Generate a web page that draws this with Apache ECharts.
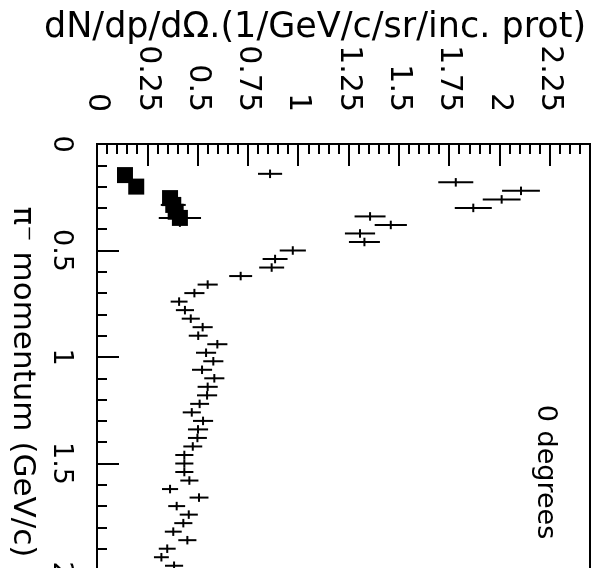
<!DOCTYPE html>
<html>
<head>
<meta charset="utf-8">
<script src="https://cdn.jsdelivr.net/npm/echarts@6/dist/echarts.min.js"></script>
<style>
  html, body { margin: 0; padding: 0; background: #fff; }
  #chart { width: 594px; height: 568px; }
</style>
</head>
<body>
<div id="chart"></div>
<script>
// pi- momentum bin centres (GeV/c) and dN/dp/dOmega values
const momentum = [0.14, 0.18, 0.22, 0.26, 0.30, 0.34, 0.38, 0.42, 0.46, 0.50,
  0.54, 0.58, 0.62, 0.66, 0.70, 0.74, 0.78, 0.82, 0.86, 0.90,
  0.94, 0.98, 1.02, 1.06, 1.10, 1.14, 1.18, 1.22, 1.26, 1.30,
  1.34, 1.38, 1.42, 1.46, 1.50, 1.54, 1.58, 1.62, 1.66, 1.70,
  1.74, 1.78, 1.82, 1.86, 1.90, 1.94, 1.98]
const dndp = [0.860, 1.783, 2.107, 2.011, 1.870, 1.357, 1.460, 1.307, 1.329, 0.973,
  0.885, 0.868, 0.714, 0.550, 0.484, 0.408, 0.437, 0.466, 0.525, 0.503,
  0.598, 0.542, 0.578, 0.522, 0.583, 0.550, 0.547, 0.510, 0.471, 0.527,
  0.502, 0.499, 0.476, 0.434, 0.434, 0.434, 0.459, 0.363, 0.507, 0.396,
  0.456, 0.429, 0.379, 0.449, 0.349, 0.320, 0.383]
const dndpErr = [0.060, 0.087, 0.094, 0.094, 0.092, 0.077, 0.080, 0.075, 0.077, 0.065,
  0.062, 0.062, 0.057, 0.050, 0.050, 0.042, 0.045, 0.045, 0.050, 0.047,
  0.050, 0.050, 0.050, 0.050, 0.050, 0.050, 0.050, 0.047, 0.045, 0.050,
  0.050, 0.047, 0.047, 0.045, 0.045, 0.045, 0.045, 0.040, 0.047, 0.042,
  0.045, 0.045, 0.042, 0.045, 0.042, 0.037, 0.045]
const binHalf = 0.02

// the filled squares
const sqMomentum = [0.146, 0.200, 0.254, 0.286, 0.318, 0.347]
const sqValue = [0.139, 0.195, 0.363, 0.379, 0.391, 0.412]
const sqErr = [0.02, 0.02, 0.03, 0.062, 0.03, 0.105]
const sqPErr = [0.02, 0.02, 0.02, 0.02, 0.02, 0.042]

const font = 'DejaVu Sans'

const myChart = echarts.init(document.getElementById('chart'))

function crossItem(params, api) {
  const v = api.value(0)
  const p = api.value(1)
  const e = api.value(2)
  const dp = api.value(3)
  const l = api.coord([v - e, p])
  const r = api.coord([v + e, p])
  const t = api.coord([v, p - dp])
  const b = api.coord([v, p + dp])
  const st = { stroke: '#000', lineWidth: 2 }
  return {
    type: 'group',
    children: [
      { type: 'line', shape: { x1: l[0], y1: l[1], x2: r[0], y2: r[1] }, style: st },
      { type: 'line', shape: { x1: t[0], y1: t[1], x2: b[0], y2: b[1] }, style: st }
    ]
  }
}

const crossData = momentum.map((p, i) => [dndp[i], p, dndpErr[i], binHalf])
const sqBars = sqMomentum.map((p, i) => [sqValue[i], p, sqErr[i], sqPErr[i]])
const sqData = sqMomentum.map((p, i) => [sqValue[i], p])

const option = {
  animation: false,
  backgroundColor: '#fff',
  grid: {
    left: 97,
    top: 144,
    width: 493,
    height: 426,
    outerBoundsMode: 'none',
    containLabel: false,
    show: true,
    borderColor: '#000',
    borderWidth: 2,
    backgroundColor: 'transparent'
  },
  xAxis: [
    {
      type: 'value',
      position: 'top',
      min: 0,
      max: 2.45,
      interval: 0.25,
      splitLine: { show: false },
      axisLine: { lineStyle: { color: '#000', width: 2 } },
      axisTick: { inside: true, length: 22, lineStyle: { color: '#000', width: 2 } },
      axisLabel: {
        rotate: -90,
        margin: 32,
        showMaxLabel: false,
        color: '#000',
        fontFamily: font,
        fontSize: 30
      }
    },
    {
      // minor ticks every 0.05
      type: 'value',
      position: 'top',
      min: 0,
      max: 2.45,
      interval: 0.05,
      splitLine: { show: false },
      axisLine: { show: false },
      axisTick: { inside: true, length: 10, lineStyle: { color: '#000', width: 2 } },
      axisLabel: { show: false }
    }
  ],
  yAxis: {
    type: 'value',
    inverse: true,
    min: 0,
    max: 2,
    interval: 0.5,
    splitLine: { show: false },
    axisLine: { lineStyle: { color: '#000', width: 2 } },
    axisTick: { inside: true, length: 22, lineStyle: { color: '#000', width: 2 } },
    minorTick: { show: true, splitNumber: 5, length: 10, lineStyle: { color: '#000', width: 2 } },
    axisLabel: {
      rotate: -90,
      margin: 22,
      color: '#000',
      fontFamily: font,
      fontSize: 27
    }
  },
  graphic: [
    {
      type: 'text',
      x: 315,
      y: 28,
      style: {
        text: 'dN/dp/dΩ.(1/GeV/c/sr/inc. prot)',
        font: '35px "DejaVu Sans"',
        fill: '#000',
        align: 'center',
        verticalAlign: 'middle'
      }
    },
    {
      type: 'text',
      x: 22,
      y: 382,
      rotation: -Math.PI / 2,
      style: {
        text: 'π⁻ momentum (GeV/c)',
        font: '31px "DejaVu Sans"',
        fill: '#000',
        align: 'center',
        verticalAlign: 'middle'
      }
    },
    {
      type: 'text',
      x: 545,
      y: 472,
      rotation: -Math.PI / 2,
      style: {
        text: '0 degrees',
        font: '27px "DejaVu Sans"',
        fill: '#000',
        align: 'center',
        verticalAlign: 'middle'
      }
    }
  ],
  series: [
    {
      name: 'crosses',
      type: 'custom',
      renderItem: crossItem,
      encode: { x: 0, y: 1 },
      data: crossData
    },
    {
      name: 'square errors',
      type: 'custom',
      renderItem: crossItem,
      encode: { x: 0, y: 1 },
      data: sqBars
    },
    {
      name: 'squares',
      type: 'scatter',
      symbol: 'rect',
      symbolSize: 16,
      z: 5,
      itemStyle: { color: '#000', opacity: 1 },
      data: sqData
    }
  ]
}

myChart.setOption(option)
</script>
</body>
</html>
